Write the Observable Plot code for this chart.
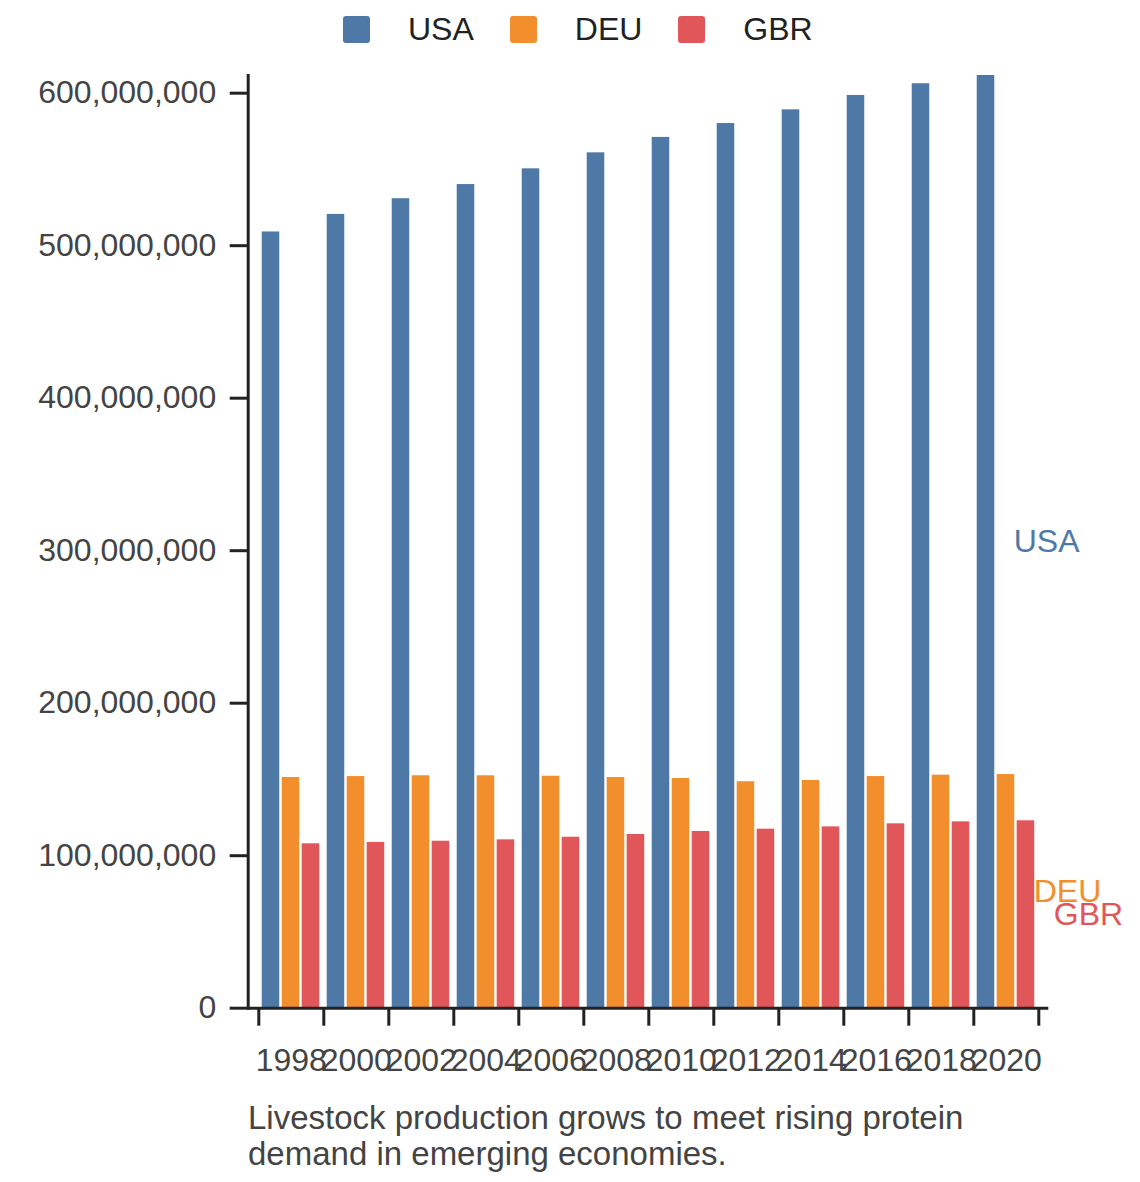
<!DOCTYPE html>
<html>
<head>
<meta charset="utf-8">
<script src="https://cdn.jsdelivr.net/npm/d3@7"></script>
<script src="https://cdn.jsdelivr.net/npm/@observablehq/plot@0.6"></script>
<style>
  html, body { margin: 0; padding: 0; background: white; }
  body { width: 1140px; height: 1182px; position: relative; overflow: hidden;
         font-family: "Liberation Sans", Arial, sans-serif; }
  #legend { position: absolute; top: 13px; left: 343px; display: flex; align-items: center;
            font-size: 32px; line-height: 32px; color: #222; }
  #legend .item { display: flex; align-items: center; margin-right: 36px; }
  #legend .sw { width: 27px; height: 27px; border-radius: 3px; margin-right: 38px; }
  #chart { position: absolute; top: 60px; left: 0; }
  #caption { position: absolute; top: 1100px; left: 248px; width: 780px;
             font-size: 33px; line-height: 36px; color: #444; }
</style>
</head>
<body>
<div id="legend"></div>
<div id="chart"></div>
<div id="caption"></div>
<script>
const years = [1998, 2000, 2002, 2004, 2006, 2008, 2010, 2012, 2014, 2016, 2018, 2020];
const countries = ["USA", "DEU", "GBR"];
const colors = ["#4e79a7", "#f28e2b", "#e15759"];
const usa = [509.0, 520.5, 530.8, 540.1, 550.4, 560.9, 571.0, 580.1, 589.1, 598.5, 606.2, 611.6].map(v => v * 1e6);
const deu = [151.3, 151.9, 152.4, 152.4, 152.1, 151.3, 150.6, 148.5, 149.3, 151.9, 152.8, 153.2].map(v => v * 1e6);
const gbr = [107.8, 108.7, 109.5, 110.4, 112.1, 113.9, 115.9, 117.4, 118.9, 120.9, 122.2, 122.9].map(v => v * 1e6);
const yTicks = [0, 1e8, 2e8, 3e8, 4e8, 5e8, 6e8];
const caption = "Livestock production grows to meet rising protein demand in emerging economies.";

// layout constants (in year units: one group spans 2 years)
const groupPad = 0.105, barStep = 0.615, barWidth = 0.54;

const series = [usa, deu, gbr];
const data = [];
countries.forEach((c, i) => {
  years.forEach((yr, j) => {
    const x1 = yr - 1 + groupPad + barStep * i;
    data.push({year: yr, country: c, value: series[i][j], x1, x2: x1 + barWidth});
  });
});
const lastYear = years[years.length - 1];
const last = data.filter(d => d.year === lastYear);
const boundaries = years.map(y => y - 1).concat([lastYear + 1]);

// legend
const legend = document.getElementById("legend");
countries.forEach((c, i) => {
  const item = document.createElement("div");
  item.className = "item";
  const sw = document.createElement("div");
  sw.className = "sw";
  sw.style.background = colors[i];
  const t = document.createElement("span");
  t.textContent = c;
  item.appendChild(sw); item.appendChild(t);
  legend.appendChild(item);
});
document.getElementById("caption").textContent = caption;

const chart = Plot.plot({
  width: 1140,
  height: 1030,
  marginTop: 15,
  marginBottom: 82.3,
  marginLeft: 247.7,
  marginRight: 91.7,
  insetLeft: 10.6,
  insetRight: 10,
  style: {fontFamily: '"Liberation Sans", Arial, sans-serif', fontSize: "32px", background: "white"},
  x: {domain: [years[0] - 1, lastYear + 1], axis: null},
  y: {domain: [0, d3.max(usa)], axis: null},
  color: {domain: countries, range: colors},
  marks: [
    Plot.rectY(data, {x1: "x1", x2: "x2", y: "value", fill: "country"}),
    Plot.axisY({ticks: yTicks, tickSize: 18, tickPadding: 14, fontSize: 32, label: null,
                tickFormat: d3.format(","), stroke: "#222", strokeWidth: 3, fill: "#444"}),
    Plot.axisX({ticks: boundaries, tickSize: 18, tickFormat: () => "", label: null,
                stroke: "#222", strokeWidth: 3}),
    Plot.axisX({ticks: years, tickSize: 0, tickPadding: 40, fontSize: 32, label: null,
                tickFormat: d3.format("d"), fill: "#444"}),
    Plot.ruleY([0], {stroke: "#222", strokeWidth: 3}),
    Plot.frame({anchor: "left", stroke: "#222", strokeWidth: 3}),
    Plot.text(last, {x: "x2", y: d => d.value / 2, text: "country", fill: "country",
                     dx: 19, textAnchor: "start", fontSize: 32})
  ]
});
document.getElementById("chart").appendChild(chart);
</script>
</body>
</html>
